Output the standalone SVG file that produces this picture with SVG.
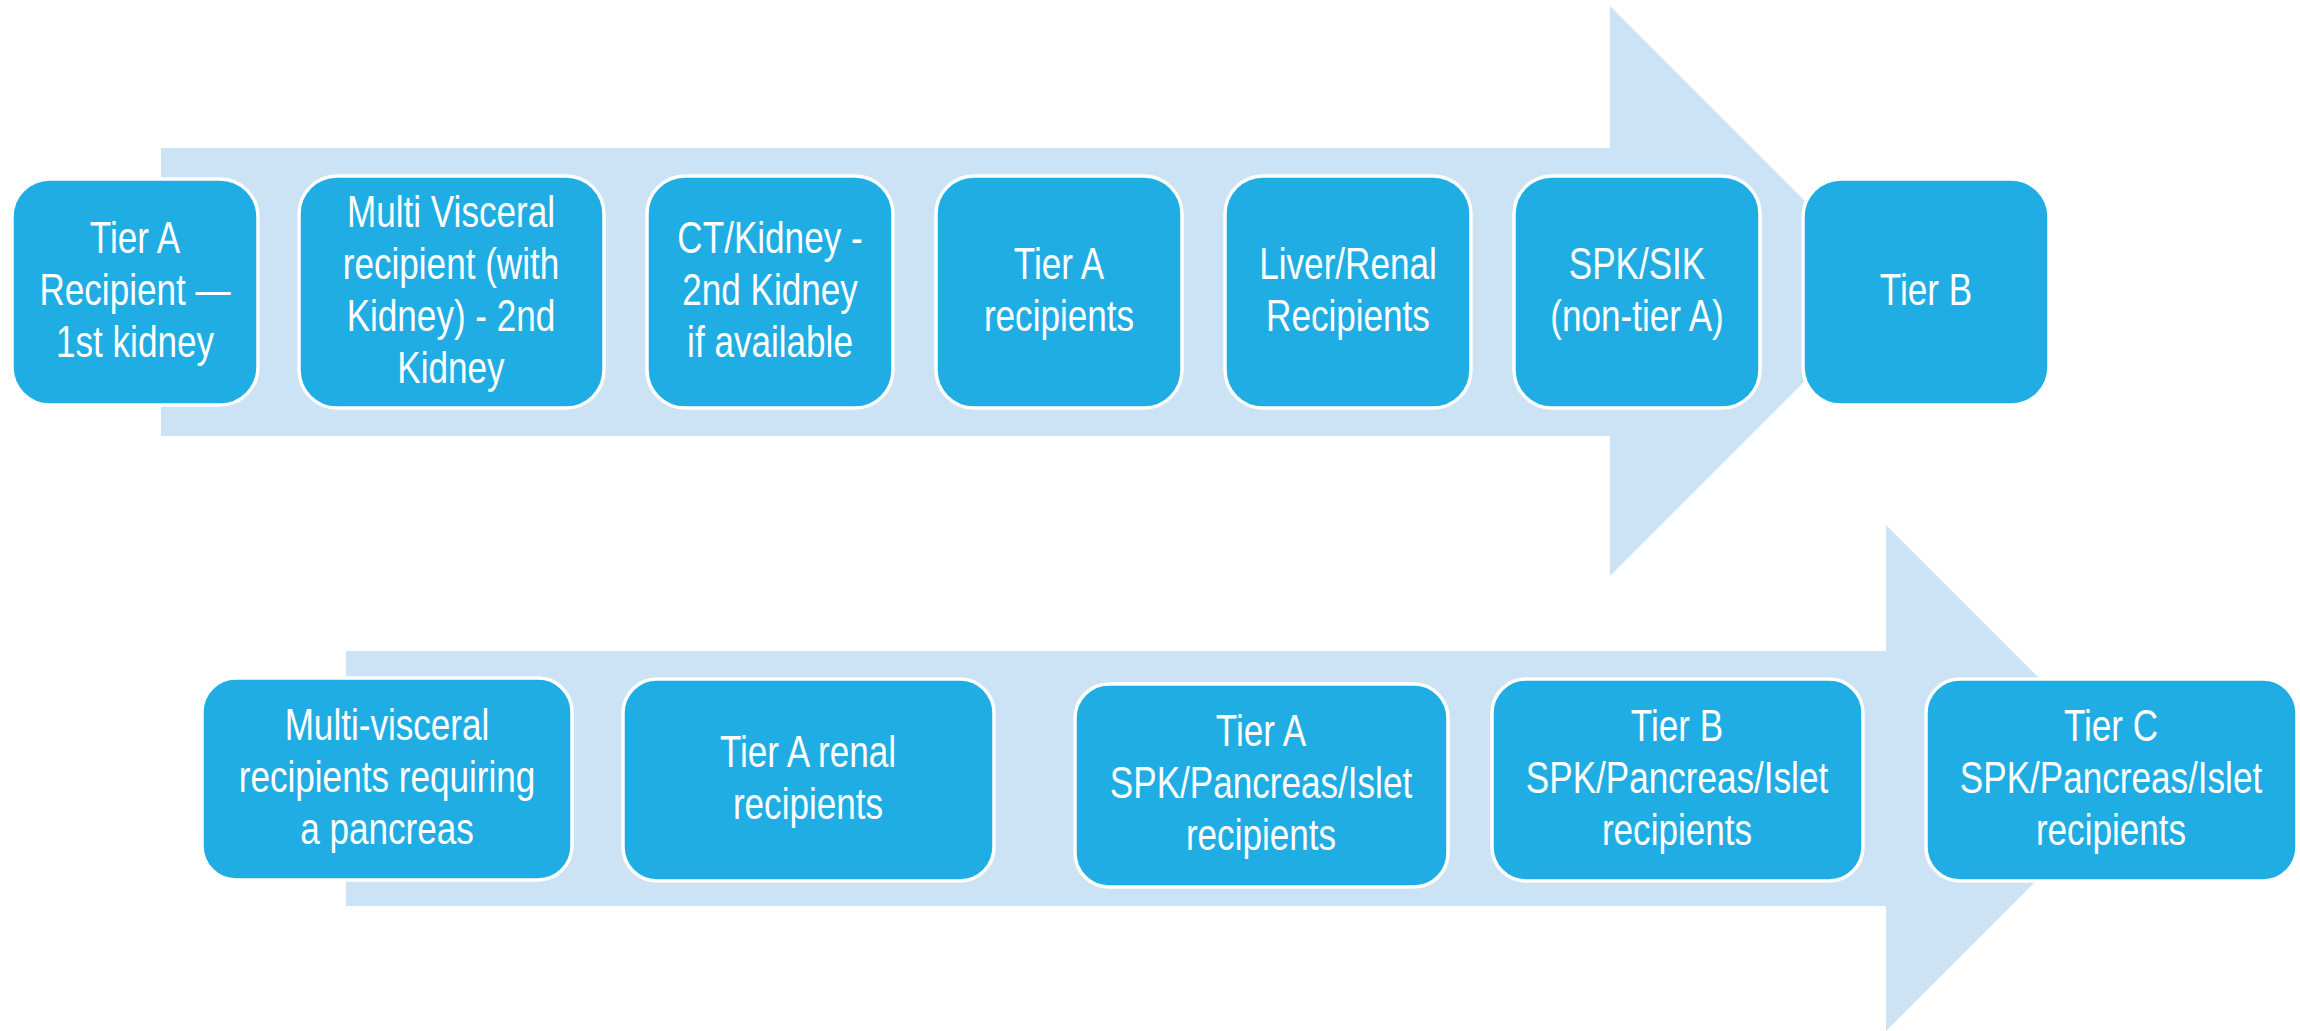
<svg xmlns="http://www.w3.org/2000/svg" width="2300" height="1031" viewBox="0 0 2300 1031">
  <style>
    .band { fill: #CCE3F5; }
    .box { fill: #1FADE4; stroke: #FFFFFF; stroke-width: 3.5; }
    .lbl { fill: #FFFFFF; font-family: "Liberation Sans", Arial, sans-serif; font-size: 45px; text-anchor: middle; }
  </style>

  <!-- background arrows that carry the sequence -->
  <g id="connectors">
    <path id="arrow-top" class="band" d="M161,148 H1610 V6 L1895,291 L1610,576 V436 H161 Z"/>
    <path id="arrow-bottom" class="band" d="M346,651 H1886 V525 L2139,778 L1886,1031 V906 H346 Z"/>
  </g>

  <!-- top row; labels are narrowed horizontally for a condensed face -->
  <g id="n1">
    <rect class="box" x="12" y="179" width="246" height="226" rx="38"/>
    <text class="lbl" transform="translate(135 0) scale(0.78 1)"><tspan x="0" y="253">Tier A</tspan><tspan x="0" y="305">Recipient —</tspan><tspan x="0" y="357">1st kidney</tspan></text>
  </g>
  <g id="n2">
    <rect class="box" x="299" y="176" width="305" height="232" rx="38"/>
    <text class="lbl" transform="translate(451 0) scale(0.78 1)"><tspan x="0" y="227">Multi Visceral</tspan><tspan x="0" y="279">recipient (with</tspan><tspan x="0" y="331">Kidney) - 2nd</tspan><tspan x="0" y="383">Kidney</tspan></text>
  </g>
  <g id="n3">
    <rect class="box" x="647" y="176" width="246" height="232" rx="38"/>
    <text class="lbl" transform="translate(770 0) scale(0.78 1)"><tspan x="0" y="253">CT/Kidney -</tspan><tspan x="0" y="305">2nd Kidney</tspan><tspan x="0" y="357">if available</tspan></text>
  </g>
  <g id="n4">
    <rect class="box" x="936" y="176" width="246" height="232" rx="38"/>
    <text class="lbl" transform="translate(1059 0) scale(0.78 1)"><tspan x="0" y="279">Tier A</tspan><tspan x="0" y="331">recipients</tspan></text>
  </g>
  <g id="n5">
    <rect class="box" x="1225" y="176" width="246" height="232" rx="38"/>
    <text class="lbl" transform="translate(1348 0) scale(0.78 1)"><tspan x="0" y="279">Liver/Renal</tspan><tspan x="0" y="331">Recipients</tspan></text>
  </g>
  <g id="n6">
    <rect class="box" x="1514" y="176" width="246" height="232" rx="38"/>
    <text class="lbl" transform="translate(1637 0) scale(0.78 1)"><tspan x="0" y="279">SPK/SIK</tspan><tspan x="0" y="331">(non-tier A)</tspan></text>
  </g>
  <g id="n7">
    <rect class="box" x="1803" y="179" width="246" height="226" rx="38"/>
    <text class="lbl" transform="translate(1926 0) scale(0.78 1)"><tspan x="0" y="305">Tier B</tspan></text>
  </g>

  <!-- bottom row -->
  <g id="n8">
    <rect class="box" x="202" y="678" width="370" height="202" rx="34"/>
    <text class="lbl" transform="translate(387 0) scale(0.78 1)"><tspan x="0" y="740">Multi-visceral</tspan><tspan x="0" y="792">recipients requiring</tspan><tspan x="0" y="844">a pancreas</tspan></text>
  </g>
  <g id="n9">
    <rect class="box" x="623" y="679" width="371" height="202" rx="34"/>
    <text class="lbl" transform="translate(808 0) scale(0.78 1)"><tspan x="0" y="767">Tier A renal</tspan><tspan x="0" y="819">recipients</tspan></text>
  </g>
  <g id="n10">
    <rect class="box" x="1075" y="684" width="373" height="203" rx="34"/>
    <text class="lbl" transform="translate(1261 0) scale(0.78 1)"><tspan x="0" y="746">Tier A</tspan><tspan x="0" y="798">SPK/Pancreas/Islet</tspan><tspan x="0" y="850">recipients</tspan></text>
  </g>
  <g id="n11">
    <rect class="box" x="1492" y="679" width="371" height="202" rx="34"/>
    <text class="lbl" transform="translate(1677 0) scale(0.78 1)"><tspan x="0" y="741">Tier B</tspan><tspan x="0" y="793">SPK/Pancreas/Islet</tspan><tspan x="0" y="845">recipients</tspan></text>
  </g>
  <g id="n12">
    <rect class="box" x="1926" y="679" width="371" height="202" rx="34"/>
    <text class="lbl" transform="translate(2111 0) scale(0.78 1)"><tspan x="0" y="741">Tier C</tspan><tspan x="0" y="793">SPK/Pancreas/Islet</tspan><tspan x="0" y="845">recipients</tspan></text>
  </g>
</svg>
